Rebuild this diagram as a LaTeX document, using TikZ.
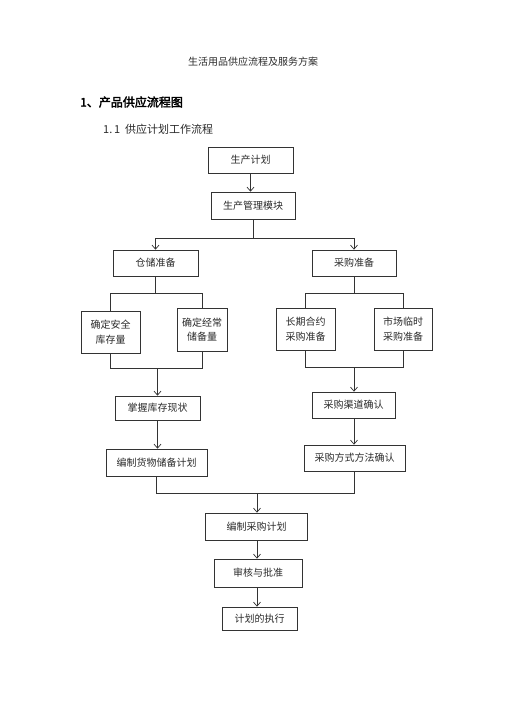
\documentclass[tikz,border=0pt]{standalone}
\usepackage{fontspec}
\setmainfont{Noto Sans CJK SC}
\newfontfamily\cjkbold[FakeBold=2.5]{Noto Sans CJK SC}
\usetikzlibrary{arrows.meta}
\definecolor{ink}{HTML}{2A2A2A}
\definecolor{linec}{HTML}{333333}
\tikzset{
  box/.style={draw=linec, line width=0.7pt, inner sep=0pt, align=center, font=\fontsize{10}{14.5}\selectfont, text=ink},
  twoline/.style={box, text depth=6pt},
  conn/.style={draw=linec, line width=0.7pt},
  arr/.style={conn, -{Straight Barb[length=4pt,width=7pt]}},
}
\begin{document}
\begin{tikzpicture}[x=1pt,y=-1pt]
\useasboundingbox (0,0) rectangle (506,702);
% titles
\node[text=ink, font=\fontsize{10}{12}\selectfont] (title) at (253,62) {生活用品供应流程及服务方案};
\node[anchor=west, inner sep=0pt, text=black, font=\fontsize{12}{14}\selectfont\cjkbold] (h1) at (80,102) {1、产品供应流程图};
\node[anchor=west, inner sep=0pt, text=ink, font=\fontsize{11}{13}\selectfont] (h2) at (103,129) {1.\,1\ \ 供应计划工作流程};
% boxes
\node[box, minimum width=85, minimum height=26] (plan) at (250.5,160) {生产计划};
\node[box, minimum width=84, minimum height=27] (mgmt) at (253,205.5) {生产管理模块};
\node[box, minimum width=85, minimum height=26] (store) at (155.5,263) {仓储准备};
\node[box, minimum width=84, minimum height=26] (purch) at (354,263) {采购准备};
\node[box, line width=1pt, minimum width=59, minimum height=42] (safe) at (110.5,332) {确定安全\\库存量};
\node[box, minimum width=50, minimum height=43] (regular) at (202,329.5) {确定经常\\储备量};
\node[box, minimum width=59, minimum height=42] (longterm) at (305.5,329) {长期合约\\采购准备};
\node[box, minimum width=58, minimum height=42] (market) at (403,329) {市场临时\\采购准备};
\node[box, minimum width=85, minimum height=24] (stock) at (157.5,408) {掌握库存现状};
\node[box, minimum width=83, minimum height=26] (channel) at (353.5,405) {采购渠道确认};
\node[box, minimum width=101, minimum height=27] (reserve) at (156.5,462.5) {编制货物储备计划};
\node[box, minimum width=101, minimum height=26] (method) at (354.5,458) {采购方式方法确认};
\node[box, minimum width=102, minimum height=27] (pplan) at (256.5,526.5) {编制采购计划};
\node[box, minimum width=88, minimum height=28] (review) at (258,573) {审核与批准};
\node[box, minimum width=75, minimum height=23] (exec) at (259.5,618.5) {计划的执行};
% junctions
\coordinate (j1) at (253,238);
\coordinate (jl1) at (155.5,293);
\coordinate (jr1) at (354,293);
\coordinate (jl2) at (157.5,368);
\coordinate (jr2) at (354,367);
\coordinate (j3) at (257,493);
% connectors
\draw[arr] (plan.south) -- (plan.south |- mgmt.north);
\draw[conn] (mgmt.south) -- (j1);
\draw[arr] (j1) -| (store.north);
\draw[arr] (j1) -| (purch.north);
\draw[conn] (store.south) -- (jl1);
\draw[conn] (jl1) -| (safe.north);
\draw[conn] (jl1) -| (regular.north);
\draw[conn] (purch.south) -- (jr1);
\draw[conn] (jr1) -| (longterm.north);
\draw[conn] (jr1) -| (market.north);
\draw[conn] (safe.south) |- (jl2);
\draw[conn] (regular.south) |- (jl2);
\draw[arr] (jl2) -- (stock.north);
\draw[conn] (longterm.south) |- (jr2);
\draw[conn] (market.south) |- (jr2);
\draw[arr] (jr2) -- (jr2 |- channel.north);
\draw[arr] (stock.south) -- (stock.south |- reserve.north);
\draw[arr] (channel.south -| jr2) -- (jr2 |- method.north);
\draw[conn] (reserve.south) |- (j3);
\draw[conn] (method.south) |- (j3);
\draw[arr] (j3) -- (j3 |- pplan.north);
\draw[arr] (j3 |- pplan.south) -- (j3 |- review.north);
\draw[arr] (j3 |- review.south) -- (j3 |- exec.north);
\end{tikzpicture}
\end{document}
